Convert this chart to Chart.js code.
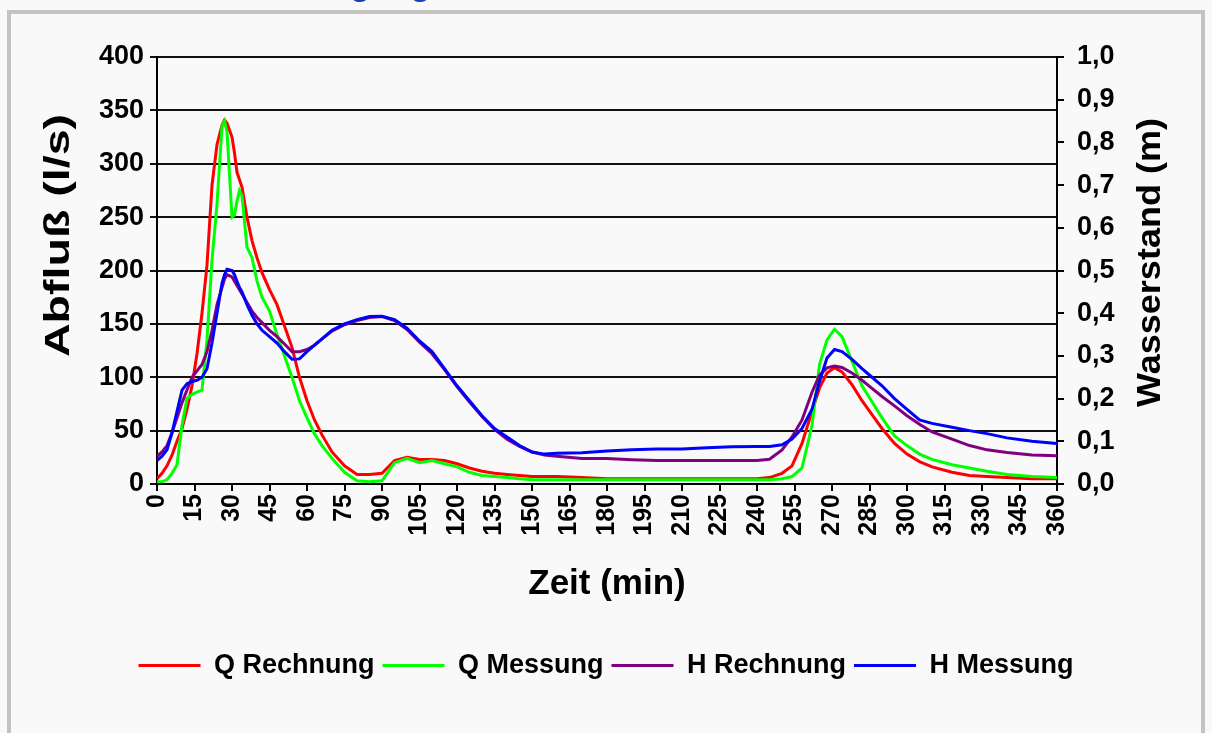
<!DOCTYPE html>
<html>
<head>
<meta charset="utf-8">
<script src="https://cdn.jsdelivr.net/npm/chart.js@4.4.1/dist/chart.umd.min.js"></script>
<style>
    html, body { margin: 0; padding: 0; background: #f9f9f9; }
    #wrap { position: relative; width: 1212px; height: 733px; overflow: hidden; }
    #frame { position: absolute; left: 7px; top: 10px; width: 1190px; height: 760px; border: 4px solid #c3c3c3; }
    #head { position: absolute; left: 0; top: -36px; width: 1212px; text-align: left; padding-left: 225px; box-sizing: border-box;
            font: bold 34px "Liberation Sans", Arial, sans-serif; color: #1c3fb0; white-space: nowrap; }
    #chart { position: absolute; left: 0; top: 0; }
</style>
</head>
<body>
<div id="wrap">
    <div id="frame"></div>
    <div id="head">Abflussganglinie und Wasserstand</div>
    <canvas id="chart" width="1212" height="733"></canvas>
</div>
<script>
// --- DATA ---
const zeit = [0, 2, 4, 6, 8, 10, 12, 14, 16, 18, 20, 22, 24, 26, 27, 28, 30, 31, 32, 33, 34, 36, 38, 40, 42, 45, 48, 51, 54, 57,
              60, 63, 66, 70, 75, 80, 85, 90, 95, 100, 105, 110, 115, 120, 125, 130, 135, 140, 145, 150, 155, 160, 170, 180,
              190, 200, 210, 220, 230, 240, 245, 250, 254, 258, 262, 265, 268, 271, 274, 278, 282, 286, 290, 295, 300, 305,
              310, 318, 325, 332, 340, 350, 360];

const qRechnung = [5, 10, 17, 27, 40, 52, 70, 92, 122, 160, 205, 280, 318, 336, 341, 338, 325, 310, 292, 285, 278, 250, 228, 212, 198, 182, 168, 148, 128, 100,
                   78, 60, 46, 30, 17, 9, 9, 10, 22, 25, 23, 23, 22, 19, 15, 12, 10, 9, 8, 7, 7, 7, 6, 5,
                   5, 5, 5, 5, 5, 5, 6, 10, 17, 38, 68, 90, 104, 109, 105, 93, 78, 65, 52, 38, 28, 21,
                   16, 11, 8, 7, 6, 5, 5];

const qMessung = [2, 2, 4, 10, 18, 55, 80, 84, 86, 88, 135, 210, 262, 335, 340, 330, 250, 252, 265, 275, 270, 222, 212, 190, 175, 162, 140, 120, 100, 78,
                  62, 47, 36, 24, 11, 3, 2, 3, 20, 24, 20, 22, 19, 16, 11, 8, 7, 6, 5, 4, 4, 4, 4, 4,
                  4, 4, 4, 4, 4, 4, 4, 5, 7, 15, 55, 112, 135, 145, 138, 115, 92, 77, 62, 45, 36, 28,
                  23, 18, 15, 12, 9, 7, 6];

const hRechnung = [0.065, 0.075, 0.09, 0.12, 0.155, 0.19, 0.22, 0.25, 0.265, 0.28, 0.31, 0.36, 0.42, 0.46, 0.48, 0.49, 0.485, 0.475, 0.465, 0.455, 0.445,
                   0.425, 0.405, 0.39, 0.378, 0.36, 0.345, 0.328, 0.31, 0.31, 0.315, 0.325, 0.34, 0.358, 0.373, 0.383, 0.39, 0.392, 0.383,
                   0.362, 0.332, 0.305, 0.268, 0.228, 0.192, 0.158, 0.128, 0.105, 0.088, 0.075, 0.068, 0.065, 0.06, 0.06, 0.057, 0.055,
                   0.055, 0.055, 0.055, 0.055, 0.058, 0.08, 0.11, 0.15, 0.215, 0.255, 0.272, 0.276, 0.273, 0.26, 0.243, 0.224, 0.205,
                   0.183, 0.16, 0.14, 0.122, 0.105, 0.09, 0.08, 0.074, 0.068, 0.066];

const hMessung = [0.055, 0.065, 0.08, 0.12, 0.17, 0.22, 0.235, 0.24, 0.243, 0.25, 0.27, 0.33, 0.4, 0.47, 0.49, 0.503, 0.5, 0.49, 0.475, 0.46, 0.45,
                  0.42, 0.395, 0.375, 0.36, 0.345, 0.33, 0.31, 0.292, 0.293, 0.31, 0.325, 0.34, 0.36, 0.375, 0.385, 0.392, 0.393, 0.385,
                  0.365, 0.335, 0.31, 0.27, 0.23, 0.195, 0.16, 0.13, 0.11, 0.09, 0.075, 0.07, 0.072, 0.073, 0.077, 0.08, 0.082,
                  0.082, 0.085, 0.087, 0.088, 0.088, 0.092, 0.105, 0.13, 0.175, 0.24, 0.295, 0.315, 0.31, 0.292, 0.27, 0.25, 0.23,
                  0.2, 0.175, 0.15, 0.142, 0.133, 0.125, 0.118, 0.108, 0.1, 0.095];

const seriesNames = ['Q Rechnung', 'Q Messung', 'H Rechnung', 'H Messung'];

// --- HELPERS ---
const FONT = '"Liberation Sans", Arial, sans-serif';
const toPoints = values => zeit.map((t, i) => ({ x: t, y: values[i] }));

function makeLine(label, values, color, axis, order) {
    return {
        label: label,
        data: toPoints(values),
        borderColor: color,
        backgroundColor: color,
        borderWidth: 3,
        pointRadius: 0,
        tension: 0,
        yAxisID: axis,
        order: order
    };
}

// both y titles read bottom-to-top and are a bit wider than the font, so they are drawn here
function drawSideTitle(ctx, text, x, y, size, stretch) {
    ctx.save();
    ctx.translate(x, y);
    ctx.rotate(-Math.PI / 2);
    ctx.scale(stretch, 1);
    ctx.font = `bold ${size}px ${FONT}`;
    ctx.fillStyle = '#000';
    ctx.textAlign = 'center';
    ctx.textBaseline = 'middle';
    ctx.fillText(text, 0, 0);
    ctx.restore();
}

const sideTitles = {
    id: 'sideTitles',
    afterDraw(chart) {
        const { ctx, chartArea } = chart;
        const mid = (chartArea.top + chartArea.bottom) / 2;
        drawSideTitle(ctx, 'Abfluß (l/s)', chart.scales.yQ.left + 17, mid - 35, 35, 1.33);
        drawSideTitle(ctx, 'Wasserstand (m)', chart.scales.yH.right - 19, mid - 8, 34, 1.06);
    }
};

new Chart(document.getElementById('chart').getContext('2d'), {
    type: 'line',
    data: {
        datasets: [
            makeLine(seriesNames[0], qRechnung, '#ff0000', 'yQ', 4),
            makeLine(seriesNames[1], qMessung, '#00ff00', 'yQ', 3),
            makeLine(seriesNames[2], hRechnung, '#800080', 'yH', 2),
            makeLine(seriesNames[3], hMessung, '#0000ff', 'yH', 1)
        ]
    },
    options: {
        responsive: false,
        animation: false,
        layout: { padding: { top: 57, left: 42, right: 42, bottom: 44 } },
        plugins: {
            tooltip: { enabled: false },
            legend: {
                position: 'bottom',
                labels: {
                    usePointStyle: true,
                    pointStyle: 'line',
                    pointStyleWidth: 62,
                    color: '#000',
                    padding: 8,
                    font: { family: FONT, size: 27, weight: 'bold' },
                    sort: (a, b) => a.datasetIndex - b.datasetIndex
                }
            }
        },
        scales: {
            x: {
                type: 'linear',
                min: 0,
                max: 360,
                afterFit: s => { s.height = 160; },
                ticks: {
                    stepSize: 15,
                    minRotation: 90,
                    maxRotation: 90,
                    padding: 3,
                    color: '#000',
                    font: { family: FONT, size: 25, weight: 'bold' }
                },
                grid: { drawOnChartArea: false, tickLength: 7, color: '#000', lineWidth: 2 },
                border: { color: '#000', width: 2 },
                title: {
                    display: true,
                    text: 'Zeit (min)',
                    color: '#000',
                    padding: { top: 0, bottom: 39 },
                    font: { family: FONT, size: 35, weight: 'bold' }
                }
            },
            yQ: {
                position: 'left',
                min: 0,
                max: 400,
                afterFit: s => { s.width = 115; },
                ticks: { stepSize: 50, padding: 6, color: '#000', font: { family: FONT, size: 27, weight: 'bold' } },
                grid: { color: '#111', lineWidth: 2, tickLength: 7 },
                border: { color: '#000', width: 2 }
            },
            yH: {
                position: 'right',
                min: 0,
                max: 1,
                afterFit: s => { s.width = 113; },
                ticks: {
                    stepSize: 0.1,
                    padding: 13,
                    color: '#000',
                    font: { family: FONT, size: 27, weight: 'bold' },
                    callback: v => v.toFixed(1).replace('.', ',')
                },
                grid: { drawOnChartArea: false, color: '#000', lineWidth: 2, tickLength: 7 },
                border: { color: '#000', width: 2 }
            }
        }
    },
    plugins: [sideTitles]
});
</script>
</body>
</html>
